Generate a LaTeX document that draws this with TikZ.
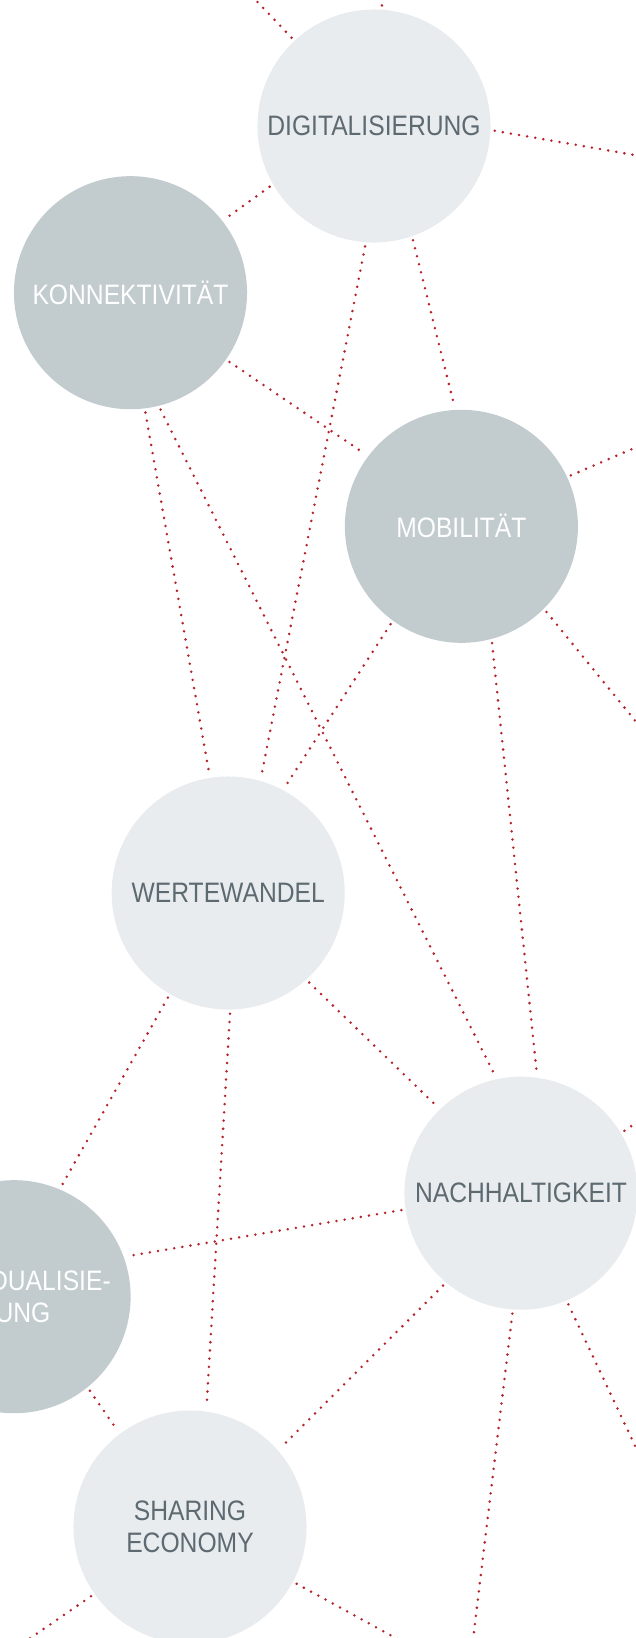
\documentclass[tikz,border=0pt]{standalone}
\usepackage{fontspec}
\setmainfont{Liberation Sans}[FakeStretch=0.877]
\definecolor{bubblelight}{HTML}{E8ECEE}
\definecolor{bubbledark}{HTML}{C2CBCE}
\definecolor{labelgrey}{HTML}{5E6A71}
\definecolor{linkred}{HTML}{B5232B}
\begin{document}
\begin{tikzpicture}[x=0.025cm,y=-0.025cm,
	bubble/.style={circle,minimum size=5.825cm,inner sep=0pt,align=center,font=\fontsize{20}{22.8}\selectfont},
	light/.style={bubble,fill=bubblelight,text=labelgrey},
	dark/.style={bubble,fill=bubbledark,text=white},
	link/.style={draw=linkred,line width=2pt,line cap=round,dash pattern=on 0pt off 5.85pt,shorten <=1mm,shorten >=1mm}]
		\clip (0,0) rectangle (636,1638);
		\node[light] (digi) at (374,126) {DIGITALISIERUNG};
		\node[dark] (konn) at (130.5,292.7) {KONNEKTIVITÄT};
		\node[dark] (mobi) at (461.4,526.3) {MOBILITÄT};
		\node[light] (werte) at (228.2,893) {WERTEWANDEL};
		\node[light] (nach) at (521,1193.2) {NACHHALTIGKEIT};
		\node[dark] (indiv) at (14.1,1296.7) {INDIVIDUALISIE-\\RUNG};
		\node[light] (share) at (190,1527) {SHARING\\ECONOMY};
		\coordinate (digiNW) at (246,-10);
		\coordinate (digiN) at (381,-10);
		\coordinate (digiE) at (646,157);
		\coordinate (mobiNE) at (646,443);
		\coordinate (mobiSE) at (646,734);
		\coordinate (nachNE) at (646,1116);
		\coordinate (nachS) at (472,1648);
		\coordinate (nachSE) at (646,1469);
		\coordinate (shareSW) at (16,1648);
		\coordinate (shareSE) at (414,1648);
		\draw[link] (digi.133.4) -- (digiNW);
		\draw[link] (digi.86.9) -- (digiN);
		\draw[link] (digi.-2.2) -- (digiE);
		\draw[link] (digi.210.6) -- (konn.38.8);
		\draw[link] (digi.266.4) -- (werte.74.7);
		\draw[link] (digi.-71.4) -- (mobi.93.9);
		\draw[link] (konn.-35.1) -- (mobi.143.8);
		\draw[link] (konn.-83.2) -- (werte.99.5);
		\draw[link] (konn.-76.9) -- (nach.102.6);
		\draw[link] (mobi.25.7) -- (mobiNE);
		\draw[link] (mobi.-45.1) -- (mobiSE);
		\draw[link] (mobi.234.7) -- (werte.62.3);
		\draw[link] (mobi.-75.1) -- (nach.82.6);
		\draw[link] (werte.-48) -- (nach.134.2);
		\draw[link] (werte.240.4) -- (indiv.67.3);
		\draw[link] (werte.-89.1) -- (share.82.5);
		\draw[link] (nach.31.4) -- (nachNE);
		\draw[link] (nach.188.4) -- (indiv.20.4);
		\draw[link] (nach.230.5) -- (share.41.5);
		\draw[link] (nach.-94) -- (nachS);
		\draw[link] (nach.-67.5) -- (nachSE);
		\draw[link] (indiv.-51.9) -- (share.127.5);
		\draw[link] (share.215.1) -- (shareSW);
		\draw[link] (share.-28.9) -- (shareSE);
\end{tikzpicture}
\end{document}
